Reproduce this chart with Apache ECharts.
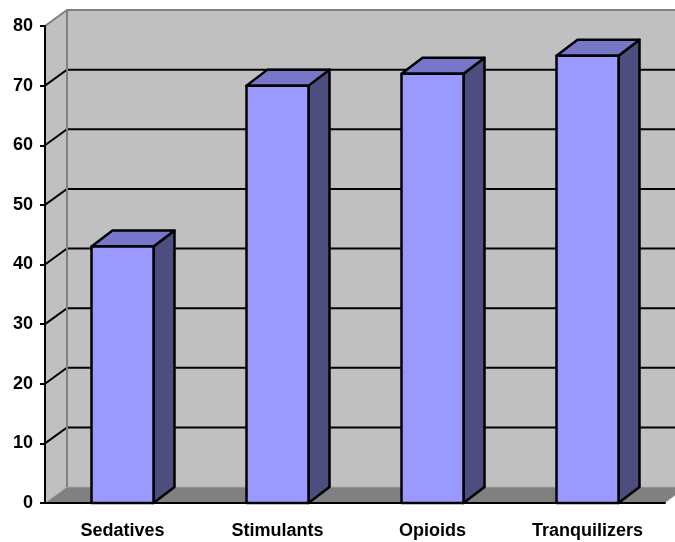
<!DOCTYPE html>
<html>
<head>
<meta charset="utf-8">
<script src="https://cdn.jsdelivr.net/npm/echarts@6/dist/echarts.min.js"></script>
<style>
  html, body { margin: 0; padding: 0; background: #fff; }
  #chart { width: 675px; height: 542px; }
</style>
</head>
<body>
<div id="chart"></div>
<script>
var categories = ['Sedatives', 'Stimulants', 'Opioids', 'Tranquilizers'];
var values = [43, 70, 72, 75];
var yTicks = [0, 10, 20, 30, 40, 50, 60, 70, 80];

// depth offsets of the fake 3d look
var wallDx = 22, wallDy = -16;
var barDx = 21, barDy = -16;

var myChart = echarts.init(document.getElementById('chart'));

function renderWalls(params, api) {
    var cs = params.coordSys;
    var x0 = cs.x, x1 = cs.x + cs.width;
    var yBase = api.coord([0, yTicks[0]])[1];
    var yTop = api.coord([0, yTicks[yTicks.length - 1]])[1];
    var kids = [];
    // back wall
    kids.push({ type: 'polygon', shape: { points: [[x0 + wallDx, yTop + wallDy], [x1 + wallDx, yTop + wallDy], [x1 + wallDx, yBase + wallDy], [x0 + wallDx, yBase + wallDy]] }, style: { fill: '#c0c0c0' } });
    // side wall
    kids.push({ type: 'polygon', shape: { points: [[x0, yTop], [x0 + wallDx, yTop + wallDy], [x0 + wallDx, yBase + wallDy], [x0, yBase]] }, style: { fill: '#c0c0c0' } });
    // floor
    kids.push({ type: 'polygon', shape: { points: [[x0, yBase], [x0 + wallDx, yBase + wallDy], [x1 + wallDx, yBase + wallDy], [x1, yBase]] }, style: { fill: '#808080' } });
    kids.push({ type: 'polyline', shape: { points: [[x0, yBase], [x0 + wallDx, yBase + wallDy], [x1 + wallDx, yBase + wallDy]] }, style: { fill: null, stroke: '#a8a8a8', lineWidth: 1 } });
    kids.push({ type: 'line', shape: { x1: x1, y1: yBase, x2: x1 + wallDx, y2: yBase + wallDy }, style: { stroke: '#e0e0e0', lineWidth: 1 } });
    // gridlines
    for (var i = 1; i < yTicks.length - 1; i++) {
        var y = api.coord([0, yTicks[i]])[1];
        kids.push({ type: 'polyline', shape: { points: [[x0, y], [x0 + wallDx, y + wallDy], [x1 + wallDx, y + wallDy]] }, style: { fill: null, stroke: '#000', lineWidth: 2 } });
    }
    // wall edges
    kids.push({ type: 'polyline', shape: { points: [[x0, yTop], [x0 + wallDx, yTop + wallDy], [x1 + wallDx, yTop + wallDy]] }, style: { fill: null, stroke: '#808080', lineWidth: 2 } });
    kids.push({ type: 'line', shape: { x1: x0 + wallDx, y1: yTop + wallDy, x2: x0 + wallDx, y2: yBase + wallDy }, style: { stroke: '#808080', lineWidth: 2 } });
    return { type: 'group', children: kids };
}

function renderBar(params, api) {
    var idx = api.value(0);
    var top = api.coord([idx, api.value(1)]);
    var base = api.coord([idx, 0]);
    var w = api.size([1, 0])[0] * 0.4;
    var xl = top[0] - w / 2, xr = top[0] + w / 2;
    var yt = top[1], yb = base[1];
    var edge = { stroke: '#000', lineWidth: 2.5, lineJoin: 'round' };
    return {
        type: 'group',
        children: [
            { type: 'polygon', shape: { points: [[xr, yt], [xr + barDx, yt + barDy], [xr + barDx, yb + barDy], [xr, yb]] }, style: Object.assign({ fill: '#4d4d80' }, edge) },
            { type: 'polygon', shape: { points: [[xl, yt], [xl + barDx, yt + barDy], [xr + barDx, yt + barDy], [xr, yt]] }, style: Object.assign({ fill: '#7777c9' }, edge) },
            { type: 'rect', shape: { x: xl, y: yt, width: w, height: yb - yt }, style: Object.assign({ fill: '#9999ff' }, edge) }
        ]
    };
}

option = {
    animation: false,
    backgroundColor: '#fff',
    grid: { left: 45, right: 10, top: 26, bottom: 39, containLabel: false, outerBoundsMode: 'none' },
    xAxis: {
        type: 'category',
        data: categories,
        z: 10,
        axisLine: { lineStyle: { color: '#000', width: 2 } },
        axisTick: { length: 6, lineStyle: { color: '#000', width: 2 } },
        axisLabel: { color: '#000', fontFamily: 'Liberation Sans', fontWeight: 'bold', fontSize: 18, margin: 19 },
        splitLine: { show: false }
    },
    yAxis: {
        type: 'value',
        min: 0,
        max: 80,
        interval: 10,
        z: 10,
        axisLine: { show: true, lineStyle: { color: '#000', width: 2 } },
        axisTick: { show: true, length: 5, lineStyle: { color: '#000', width: 2 } },
        axisLabel: { color: '#000', fontFamily: 'Liberation Sans', fontWeight: 'bold', fontSize: 18, margin: 12 },
        splitLine: { show: false }
    },
    series: [
        { type: 'custom', silent: true, clip: false, z: 1, renderItem: renderWalls, data: [[0, 0]] },
        { type: 'custom', silent: true, clip: false, z: 3, renderItem: renderBar, data: values.map(function (v, i) { return [i, v]; }) }
    ]
};

if (option && typeof option === "object") {
    myChart.setOption(option, true);
}
</script>
</body>
</html>
